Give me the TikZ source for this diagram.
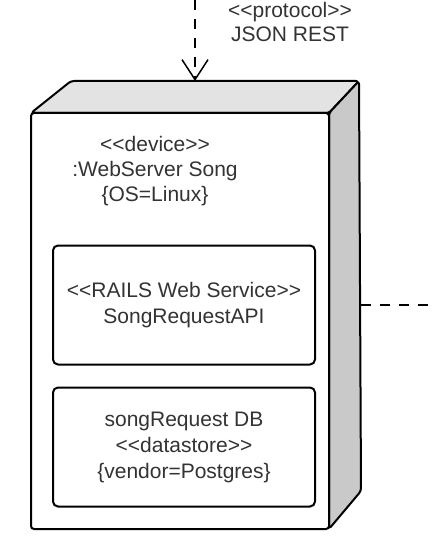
\documentclass[tikz,border=0pt]{standalone}
\usepackage{fontspec}
\setmainfont{Liberation Sans}[Ligatures=TeXOff]
\usetikzlibrary{arrows.meta}
\definecolor{topgray}{HTML}{E3E3E3}
\definecolor{sidegray}{HTML}{C9C9C9}
\definecolor{txtgray}{HTML}{333333}
\tikzset{
	face/.style={line width=2pt, line join=round, rounded corners=3pt},
	part/.style={draw, line width=2pt, rounded corners=5pt, minimum width=262pt, minimum height=119pt, align=center, text=txtgray, font=\fontsize{21}{26}\selectfont},
	lbl/.style={align=center, text=txtgray, font=\fontsize{21}{25}\selectfont},
	dep/.style={dash pattern=on 10pt off 9pt, line width=1.5pt}
}
\begin{document}
\begin{tikzpicture}[x=1pt,y=-1pt]
	\useasboundingbox (0,0) rectangle (431,540);
		% the device box
		\draw[face,fill=topgray] (31,113)--(71,81)--(359,81)--(329,113)--cycle;
		\draw[face,fill=sidegray] (329,113)--(359,81)--(361,491)--(329,529)--cycle;
		\draw[face,fill=white] (31,113) rectangle (329,529);
			\coordinate (topmid) at (195,81);
			\coordinate (sidemid) at (361,305);
			\coordinate (src) at (195,0);
			\coordinate (out) at (431,305);
		\node[lbl] (device) at (155,171) {<<device>>\\:WebServer Song\\\{OS=Linux\}};
		\node[part] (api) at (184,305) {<<RAILS Web Service>>\\SongRequestAPI};
		\node[part] (db) at (184,447) {songRequest DB\\<<datastore>>\\\{vendor=Postgres\}};
		% connectors
		\node[lbl, font=\fontsize{21}{24}\selectfont] (proto) at (290,22) {<<protocol>>\\JSON REST};
			\draw[dep,-{Straight Barb[length=20pt,width=26pt]}] (src)--(topmid);
			\draw[dep] (sidemid)--(out);
\end{tikzpicture}
\end{document}
